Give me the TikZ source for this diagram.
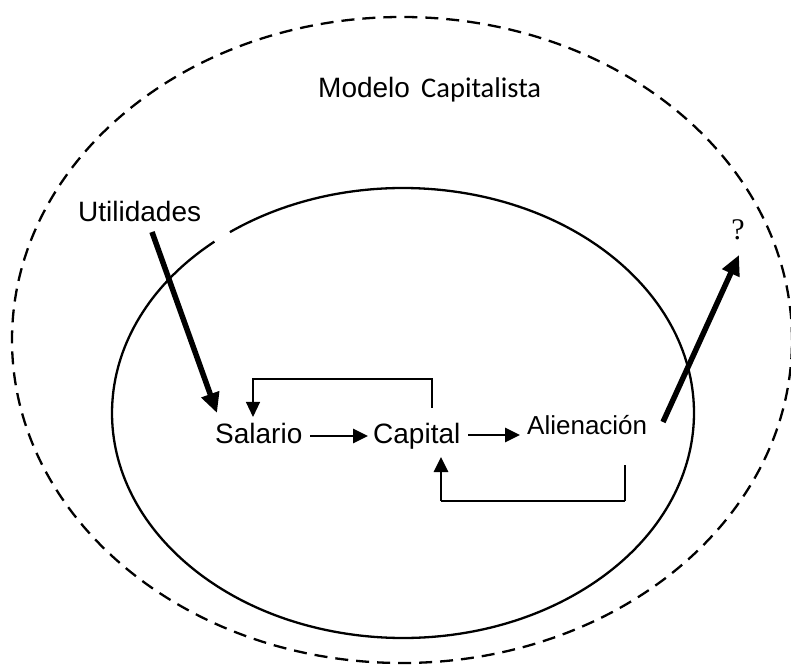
\documentclass[tikz,border=0pt]{standalone}
\usepackage{fontspec}
\setmainfont{Liberation Sans}
\newfontfamily\calfont{Carlito}
\newfontfamily\serfont{Liberation Serif}
\usetikzlibrary{arrows.meta}
\begin{document}
\begin{tikzpicture}[x=1pt,y=1pt,
  lbl/.style={inner sep=0pt, anchor=base west},
  bigarr/.style={line width=5.5pt, -{Triangle[length=20pt,width=18pt]}},
  midarr/.style={line width=2.8pt, -{Triangle[length=15pt,width=14pt]}},
  loopline/.style={line width=1.1pt},
  looparr/.style={line width=1.1pt, -{Triangle[length=15pt,width=14pt]}},
  ring/.style={line width=2.3pt}
]
\useasboundingbox (0,0) rectangle (791,664);
% outer dashed ellipse
\draw[ring, dash pattern=on 13pt off 8pt] (402,324) ellipse [x radius=390, y radius=323];
% inner ellipse with small gap
\draw[ring] (403,251) ++(130.4:291 and 225) arc[start angle=130.4, end angle=486.5, x radius=291, y radius=225];

% labels
\node[lbl, font=\fontsize{28}{30}\selectfont] (mod) at (318,566) {Modelo};
\node[lbl, font=\calfont\fontsize{28.5}{30}\selectfont] (capm) at (421,566) {Capitalista};
\node[lbl, font=\fontsize{28}{30}\selectfont] (uti) at (78,442) {Utilidades};
\node[lbl, font=\fontsize{28}{30}\selectfont] (sal) at (215,221) {Salario};
\node[lbl, font=\fontsize{28}{30}\selectfont] (cap) at (373,221) {Capital};
\node[lbl, font=\fontsize{26}{28}\selectfont] (ali) at (527,230) {Alienación};
\node[inner sep=0pt, anchor=base, font=\serfont\fontsize{30}{32}\selectfont] (q) at (738,424) {?};

% coordinates for connector ends
\coordinate (u1) at (152,432);
\coordinate (u2) at (217,251);
\coordinate (a1) at (663,242);
\coordinate (a2) at (739,409);
\coordinate (t1) at (432,256);
\coordinate (t2) at (432,285);
\coordinate (t3) at (253,285);
\coordinate (t4) at (253,247);
\coordinate (b1) at (625,199);
\coordinate (b2) at (625,163);
\coordinate (b3) at (441,163);
\coordinate (b4) at (441,207);

% connectors
\draw[bigarr] (u1) -- (u2);
\draw[bigarr] (a1) -- (a2);
\draw[midarr] ([shift={(95,7)}]sal.base west) -- ([shift={(-5,7)}]cap.base west);
\draw[midarr] ([shift={(95,8)}]cap.base west) -- ([shift={(-7,-1)}]ali.base west);
\draw[looparr] (t1) -- (t2) -- (t3) -- (t4);
\draw[loopline] (b1) -- (b2);
\draw[line width=1.8pt] (b2) -- (b3);
\draw[midarr] (b3) -- (b4);
\end{tikzpicture}
\end{document}
